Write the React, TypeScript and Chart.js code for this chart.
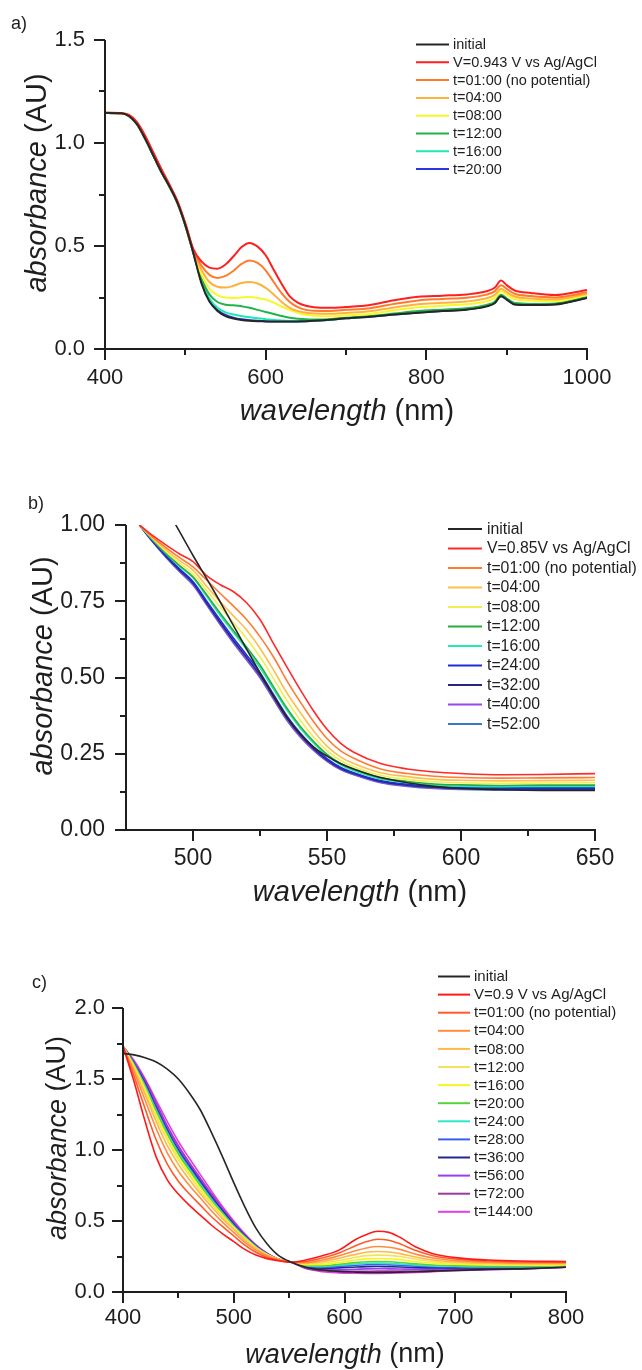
import React, { useEffect, useRef } from 'react';
import { Chart, registerables } from 'chart.js';

Chart.register(...registerables);

const FONT = "'Liberation Sans', Arial, Helvetica, sans-serif";
const INK = '#1e1e1e';

// ---------------- Panel a ----------------
const A_WAVELENGTH = [400, 420, 430, 440, 450, 460, 470, 480, 490, 500, 510, 520, 530, 540, 550, 560, 570, 580, 590, 600, 610, 620, 630, 640, 650, 660, 680, 700, 730, 760, 790, 820, 850, 875, 885, 893, 900, 910, 930, 960, 1000];
const A_INITIAL = [1.146, 1.144, 1.13, 1.09, 1.02, 0.94, 0.86, 0.79, 0.71, 0.6, 0.465, 0.32, 0.23, 0.185, 0.16, 0.148, 0.141, 0.137, 0.135, 0.134, 0.133, 0.133, 0.133, 0.134, 0.135, 0.137, 0.142, 0.149, 0.157, 0.167, 0.176, 0.184, 0.191, 0.207, 0.222, 0.256, 0.24, 0.216, 0.213, 0.216, 0.248];
const A_V0943 = [1.147, 1.146, 1.136, 1.1, 1.035, 0.955, 0.875, 0.8, 0.72, 0.61, 0.485, 0.425, 0.395, 0.39, 0.41, 0.45, 0.495, 0.515, 0.497, 0.455, 0.385, 0.315, 0.255, 0.225, 0.21, 0.203, 0.2, 0.204, 0.214, 0.237, 0.254, 0.259, 0.265, 0.28, 0.297, 0.332, 0.31, 0.284, 0.272, 0.262, 0.287];
const A_T01 = [1.147, 1.145, 1.134, 1.097, 1.03, 0.95, 0.87, 0.797, 0.717, 0.607, 0.478, 0.405, 0.36, 0.345, 0.355, 0.38, 0.413, 0.43, 0.418, 0.382, 0.325, 0.27, 0.228, 0.203, 0.19, 0.186, 0.185, 0.19, 0.198, 0.219, 0.236, 0.243, 0.249, 0.264, 0.28, 0.31, 0.292, 0.268, 0.257, 0.25, 0.275];
const A_T04 = [1.146, 1.145, 1.132, 1.094, 1.026, 0.946, 0.866, 0.794, 0.714, 0.604, 0.474, 0.385, 0.325, 0.302, 0.298, 0.307, 0.32, 0.325, 0.318, 0.297, 0.265, 0.228, 0.2, 0.184, 0.176, 0.172, 0.171, 0.175, 0.183, 0.202, 0.217, 0.224, 0.231, 0.246, 0.262, 0.292, 0.276, 0.255, 0.245, 0.24, 0.268];
const A_T08 = [1.146, 1.144, 1.131, 1.092, 1.023, 0.943, 0.863, 0.792, 0.712, 0.602, 0.47, 0.362, 0.293, 0.262, 0.25, 0.248, 0.25, 0.252, 0.248, 0.24, 0.225, 0.205, 0.19, 0.176, 0.166, 0.161, 0.159, 0.163, 0.17, 0.188, 0.203, 0.21, 0.217, 0.232, 0.248, 0.28, 0.264, 0.243, 0.235, 0.232, 0.262];
const A_T12 = [1.146, 1.144, 1.13, 1.091, 1.021, 0.941, 0.861, 0.791, 0.711, 0.601, 0.468, 0.345, 0.265, 0.228, 0.215, 0.212, 0.208, 0.2, 0.19, 0.18, 0.17, 0.16, 0.152, 0.147, 0.144, 0.143, 0.145, 0.152, 0.16, 0.172, 0.184, 0.191, 0.198, 0.214, 0.229, 0.263, 0.246, 0.223, 0.219, 0.221, 0.252];
const A_T16 = [1.146, 1.144, 1.13, 1.09, 1.02, 0.94, 0.86, 0.79, 0.71, 0.6, 0.466, 0.334, 0.245, 0.2, 0.178, 0.167, 0.16, 0.154, 0.149, 0.145, 0.141, 0.138, 0.136, 0.135, 0.135, 0.137, 0.142, 0.15, 0.158, 0.168, 0.178, 0.186, 0.193, 0.209, 0.224, 0.258, 0.242, 0.218, 0.215, 0.218, 0.25];
const A_T20 = [1.146, 1.144, 1.13, 1.09, 1.02, 0.94, 0.86, 0.79, 0.71, 0.6, 0.466, 0.327, 0.237, 0.19, 0.165, 0.152, 0.144, 0.14, 0.137, 0.135, 0.134, 0.134, 0.134, 0.134, 0.135, 0.137, 0.142, 0.149, 0.157, 0.167, 0.177, 0.185, 0.192, 0.208, 0.223, 0.257, 0.241, 0.217, 0.214, 0.217, 0.249];
const A_LABELS = ['initial', 'V=0.943 V vs Ag/AgCl', 't=01:00 (no potential)', 't=04:00', 't=08:00', 't=12:00', 't=16:00', 't=20:00'];
const A_X_TICKS = [400, 600, 800, 1000];
const A_X_MINOR = [500, 700, 900];
const A_Y_TICKS = [0, 0.5, 1.0, 1.5];
const A_Y_MINOR = [0.25, 0.75, 1.25];

// ---------------- Panel b ----------------
const B_WAVELENGTH = [480, 485, 490, 495, 500, 505, 510, 515, 520, 525, 530, 535, 540, 545, 550, 555, 560, 570, 580, 590, 600, 615, 630, 650];
const B_INITIAL = [null, null, 1.056, 0.978, 0.9, 0.826, 0.75, 0.672, 0.593, 0.515, 0.44, 0.37, 0.315, 0.272, 0.242, 0.218, 0.2, 0.172, 0.155, 0.143, 0.136, 0.132, 0.13, 0.13];
const B_V085 = [1.0, 0.965, 0.934, 0.905, 0.88, 0.835, 0.805, 0.782, 0.745, 0.69, 0.612, 0.535, 0.46, 0.39, 0.33, 0.285, 0.255, 0.218, 0.2, 0.19, 0.185, 0.181, 0.182, 0.185];
const B_T01 = [1.0, 0.96, 0.925, 0.893, 0.863, 0.82, 0.777, 0.735, 0.69, 0.634, 0.568, 0.49, 0.42, 0.355, 0.3, 0.26, 0.235, 0.2, 0.185, 0.176, 0.172, 0.17, 0.171, 0.172];
const B_T04 = [1.0, 0.958, 0.918, 0.883, 0.852, 0.8, 0.75, 0.703, 0.656, 0.596, 0.525, 0.45, 0.385, 0.325, 0.275, 0.24, 0.218, 0.188, 0.175, 0.166, 0.163, 0.161, 0.162, 0.163];
const B_T08 = [1.0, 0.955, 0.912, 0.875, 0.84, 0.787, 0.733, 0.68, 0.628, 0.568, 0.497, 0.425, 0.36, 0.305, 0.26, 0.228, 0.207, 0.179, 0.166, 0.158, 0.155, 0.153, 0.154, 0.155];
const B_T12 = [1.0, 0.952, 0.907, 0.867, 0.83, 0.772, 0.712, 0.655, 0.6, 0.541, 0.47, 0.4, 0.34, 0.29, 0.248, 0.218, 0.198, 0.171, 0.159, 0.151, 0.148, 0.146, 0.147, 0.147];
const B_T16 = [1.0, 0.951, 0.905, 0.864, 0.827, 0.767, 0.705, 0.648, 0.592, 0.532, 0.462, 0.393, 0.334, 0.285, 0.244, 0.214, 0.194, 0.167, 0.155, 0.147, 0.144, 0.142, 0.143, 0.143];
const B_T24 = [1.0, 0.948, 0.9, 0.856, 0.815, 0.752, 0.69, 0.63, 0.574, 0.516, 0.445, 0.375, 0.318, 0.272, 0.234, 0.206, 0.188, 0.162, 0.15, 0.143, 0.14, 0.138, 0.138, 0.138];
const B_T32 = [1.0, 0.946, 0.897, 0.852, 0.81, 0.746, 0.683, 0.622, 0.566, 0.508, 0.438, 0.368, 0.312, 0.267, 0.23, 0.202, 0.185, 0.159, 0.147, 0.14, 0.137, 0.135, 0.135, 0.135];
const B_T40 = [1.0, 0.945, 0.895, 0.849, 0.806, 0.742, 0.678, 0.617, 0.56, 0.502, 0.432, 0.363, 0.307, 0.263, 0.227, 0.2, 0.183, 0.157, 0.145, 0.138, 0.135, 0.133, 0.133, 0.133];
const B_T52 = [1.0, 0.944, 0.893, 0.847, 0.803, 0.739, 0.675, 0.614, 0.557, 0.499, 0.429, 0.36, 0.305, 0.261, 0.225, 0.198, 0.181, 0.155, 0.143, 0.136, 0.133, 0.131, 0.131, 0.132];
const B_LABELS = ['initial', 'V=0.85V vs Ag/AgCl', 't=01:00 (no potential)', 't=04:00', 't=08:00', 't=12:00', 't=16:00', 't=24:00', 't=32:00', 't=40:00', 't=52:00'];
const B_X_TICKS = [500, 550, 600, 650];
const B_X_MINOR = [525, 575, 625];
const B_Y_TICKS = [0, 0.25, 0.5, 0.75, 1.0];
const B_Y_MINOR = [0.125, 0.375, 0.625, 0.875];

// ---------------- Panel c ----------------
const C_WAVELENGTH = [400, 410, 420, 430, 440, 450, 460, 470, 480, 490, 500, 510, 520, 530, 540, 552, 565, 580, 595, 610, 620, 630, 640, 650, 665, 680, 700, 730, 760, 800];
const C_INITIAL = [1.68, 1.67, 1.65, 1.62, 1.57, 1.5, 1.4, 1.28, 1.12, 0.95, 0.77, 0.6, 0.45, 0.34, 0.26, 0.21, 0.175, 0.155, 0.145, 0.14, 0.138, 0.137, 0.138, 0.14, 0.143, 0.147, 0.152, 0.158, 0.163, 0.175];
const C_V09 = [1.73, 1.48, 1.2, 0.95, 0.79, 0.69, 0.61, 0.54, 0.47, 0.41, 0.355, 0.3, 0.26, 0.235, 0.22, 0.21, 0.225, 0.255, 0.295, 0.37, 0.405, 0.428, 0.42, 0.385, 0.315, 0.27, 0.242, 0.225, 0.218, 0.215];
const C_T01 = [1.73, 1.52, 1.29, 1.07, 0.9, 0.78, 0.69, 0.61, 0.53, 0.46, 0.395, 0.33, 0.28, 0.245, 0.225, 0.21, 0.215, 0.24, 0.275, 0.325, 0.355, 0.372, 0.365, 0.34, 0.29, 0.255, 0.232, 0.218, 0.212, 0.21];
const C_T04 = [1.73, 1.55, 1.35, 1.15, 0.98, 0.85, 0.75, 0.66, 0.57, 0.49, 0.42, 0.35, 0.295, 0.255, 0.228, 0.21, 0.208, 0.225, 0.255, 0.29, 0.31, 0.32, 0.315, 0.3, 0.265, 0.24, 0.222, 0.21, 0.205, 0.205];
const C_T08 = [1.73, 1.57, 1.39, 1.2, 1.03, 0.9, 0.79, 0.69, 0.6, 0.515, 0.44, 0.365, 0.305, 0.26, 0.23, 0.21, 0.203, 0.213, 0.238, 0.265, 0.28, 0.285, 0.282, 0.27, 0.245, 0.225, 0.212, 0.203, 0.2, 0.2];
const C_T12 = [1.73, 1.58, 1.41, 1.23, 1.07, 0.93, 0.82, 0.71, 0.62, 0.53, 0.45, 0.375, 0.31, 0.262, 0.23, 0.21, 0.198, 0.203, 0.222, 0.245, 0.256, 0.26, 0.258, 0.25, 0.23, 0.214, 0.204, 0.197, 0.194, 0.195];
const C_T16 = [1.73, 1.59, 1.43, 1.25, 1.09, 0.95, 0.84, 0.73, 0.63, 0.54, 0.455, 0.38, 0.313, 0.264, 0.23, 0.21, 0.193, 0.194, 0.208, 0.225, 0.233, 0.236, 0.234, 0.228, 0.213, 0.203, 0.196, 0.19, 0.188, 0.19];
const C_T20 = [1.73, 1.6, 1.44, 1.27, 1.11, 0.97, 0.855, 0.745, 0.64, 0.55, 0.46, 0.385, 0.316, 0.265, 0.23, 0.21, 0.188, 0.185, 0.195, 0.207, 0.213, 0.215, 0.213, 0.208, 0.198, 0.19, 0.186, 0.182, 0.181, 0.185];
const C_T24 = [1.73, 1.6, 1.45, 1.28, 1.12, 0.98, 0.865, 0.755, 0.65, 0.555, 0.465, 0.388, 0.318, 0.266, 0.23, 0.21, 0.185, 0.18, 0.188, 0.197, 0.202, 0.203, 0.201, 0.197, 0.19, 0.184, 0.181, 0.178, 0.178, 0.182];
const C_T28 = [1.73, 1.61, 1.46, 1.29, 1.13, 0.99, 0.875, 0.765, 0.66, 0.56, 0.47, 0.39, 0.32, 0.267, 0.23, 0.21, 0.182, 0.175, 0.18, 0.188, 0.192, 0.193, 0.191, 0.188, 0.182, 0.178, 0.176, 0.174, 0.174, 0.18];
const C_T36 = [1.73, 1.61, 1.47, 1.3, 1.14, 1.0, 0.885, 0.775, 0.67, 0.57, 0.477, 0.395, 0.323, 0.268, 0.23, 0.21, 0.178, 0.168, 0.17, 0.176, 0.179, 0.18, 0.178, 0.176, 0.172, 0.17, 0.17, 0.169, 0.17, 0.178];
const C_T56 = [1.73, 1.62, 1.48, 1.32, 1.16, 1.02, 0.9, 0.79, 0.68, 0.58, 0.485, 0.4, 0.326, 0.27, 0.23, 0.21, 0.172, 0.158, 0.156, 0.16, 0.163, 0.164, 0.163, 0.162, 0.16, 0.16, 0.162, 0.164, 0.166, 0.176];
const C_T72 = [1.73, 1.62, 1.49, 1.33, 1.17, 1.03, 0.91, 0.8, 0.69, 0.585, 0.49, 0.403, 0.328, 0.271, 0.23, 0.21, 0.168, 0.15, 0.145, 0.145, 0.146, 0.147, 0.147, 0.147, 0.148, 0.15, 0.155, 0.16, 0.163, 0.175];
const C_T144 = [1.73, 1.63, 1.5, 1.35, 1.2, 1.06, 0.94, 0.825, 0.71, 0.6, 0.5, 0.41, 0.332, 0.273, 0.232, 0.21, 0.165, 0.143, 0.135, 0.132, 0.131, 0.131, 0.132, 0.134, 0.138, 0.143, 0.15, 0.157, 0.162, 0.174];
const C_LABELS = ['initial', 'V=0.9 V vs Ag/AgCl', 't=01:00 (no potential)', 't=04:00', 't=08:00', 't=12:00', 't=16:00', 't=20:00', 't=24:00', 't=28:00', 't=36:00', 't=56:00', 't=72:00', 't=144:00'];
const C_X_TICKS = [400, 500, 600, 700, 800];
const C_X_MINOR = [450, 550, 650, 750];
const C_Y_TICKS = [0, 0.5, 1.0, 1.5, 2.0];
const C_Y_MINOR = [0.25, 0.75, 1.25, 1.75];

// ---------------- styles / layout ----------------
const A_COLORS = ['#262626', '#ff1f1f', '#ff7b29', '#ffb13d', '#f7f72a', '#21b34a', '#1ee8b4', '#2a35e0'];
const B_COLORS = ['#262626', '#ff2a2a', '#ff7b30', '#ffbe4d', '#f0f050', '#2bab3c', '#22ecb4', '#1f2fd8', '#27277f', '#9b45f0', '#3c78c8'];
const C_COLORS = ['#262626', '#ff1a1a', '#ff5a28', '#ff8c40', '#ffb84a', '#f2e35a', '#f7f51c', '#55d43a', '#2ee8c8', '#3c5ef0', '#252590', '#9a3cf5', '#9a3a9a', '#e23ee6'];

const PANELS = [
  {
    key: 'a', top: 0, height: 460,
    area: { left: 105, right: 587, top: 40, bottom: 349 },
    x: { min: 400, max: 1000, ticks: A_X_TICKS, minor: A_X_MINOR },
    y: { min: 0, max: 1.5, ticks: A_Y_TICKS, minor: A_Y_MINOR, dec: 1 },
    wl: A_WAVELENGTH,
    series: [A_INITIAL, A_V0943, A_T01, A_T04, A_T08, A_T12, A_T16, A_T20],
    labels: A_LABELS, colors: A_COLORS, lineWidth: 2,
    tickFont: 22, xPad: 16, yPad: 20,
    legend: { x0: 416, x1: 449, tx: 453, y0: 44.5, dy: 17.8, size: 14.5 },
    yTitle: { x: 38, y: 183, size: 29 },
    xTitle: { x: 347, y: 412, size: 29 },
    tag: { text: 'a)', x: 11, y: 24, size: 18 },
  },
  {
    key: 'b', top: 460, height: 460,
    area: { left: 126, right: 595, top: 525, bottom: 830 },
    x: { min: 475, max: 650, ticks: B_X_TICKS, minor: B_X_MINOR },
    y: { min: 0, max: 1.0, ticks: B_Y_TICKS, minor: B_Y_MINOR, dec: 2 },
    wl: B_WAVELENGTH,
    series: [B_INITIAL, B_V085, B_T01, B_T04, B_T08, B_T12, B_T16, B_T24, B_T32, B_T40, B_T52],
    labels: B_LABELS, colors: B_COLORS, lineWidth: 1.6,
    tickFont: 23, xPad: 15, yPad: 21,
    legend: { x0: 448, x1: 482, tx: 487, y0: 529, dy: 19.5, size: 15.8 },
    yTitle: { x: 44, y: 666, size: 29 },
    xTitle: { x: 360, y: 893, size: 29 },
    tag: { text: 'b)', x: 28, y: 504, size: 18 },
  },
  {
    key: 'c', top: 920, height: 450,
    area: { left: 123, right: 566, top: 1008, bottom: 1292 },
    x: { min: 400, max: 800, ticks: C_X_TICKS, minor: C_X_MINOR },
    y: { min: 0, max: 2.0, ticks: C_Y_TICKS, minor: C_Y_MINOR, dec: 1 },
    wl: C_WAVELENGTH,
    series: [C_INITIAL, C_V09, C_T01, C_T04, C_T08, C_T12, C_T16, C_T20, C_T24, C_T28, C_T36, C_T56, C_T72, C_T144],
    labels: C_LABELS, colors: C_COLORS, lineWidth: 1.6,
    tickFont: 22, xPad: 13, yPad: 18,
    legend: { x0: 438, x1: 470, tx: 474, y0: 976.5, dy: 18.1, size: 15 },
    yTitle: { x: 58, y: 1138, size: 27 },
    xTitle: { x: 345, y: 1355, size: 27 },
    tag: { text: 'c)', x: 32, y: 983, size: 18 },
  },
];

function drawMixed(ctx: CanvasRenderingContext2D, parts: { t: string; it: boolean }[], cx: number, cy: number, size: number, rotate: boolean) {
  ctx.save();
  ctx.translate(cx, cy);
  if (rotate) ctx.rotate(-Math.PI / 2);
  const fonts = parts.map((p) => `${p.it ? 'italic ' : ''}${size}px ${FONT}`);
  let total = 0;
  const widths = parts.map((p, i) => {
    ctx.font = fonts[i];
    const w = ctx.measureText(p.t).width;
    total += w;
    return w;
  });
  let x = -total / 2;
  ctx.textBaseline = 'middle';
  ctx.textAlign = 'left';
  ctx.fillStyle = INK;
  parts.forEach((p, i) => {
    ctx.font = fonts[i];
    ctx.fillText(p.t, x, 0);
    x += widths[i];
  });
  ctx.restore();
}

function decorPlugin(s: any) {
  return {
    id: 'decor' + s.key,
    afterDatasetsDraw(chart: any) {
      const ctx: CanvasRenderingContext2D = chart.ctx;
      const ca = chart.chartArea;
      const xs = chart.scales.x;
      const ys = chart.scales.y;
      const off = s.top;
      ctx.save();
      ctx.strokeStyle = INK;
      ctx.lineWidth = 2;
      ctx.lineCap = 'butt';
      ctx.beginPath();
      const L = Math.round(ca.left);
      const B = Math.round(ca.bottom);
      ctx.moveTo(L, Math.round(ca.top));
      ctx.lineTo(L, B + 1);
      ctx.moveTo(L - 1, B);
      ctx.lineTo(Math.round(ca.right) + 1, B);
      s.x.ticks.forEach((v: number) => {
        const p = Math.round(xs.getPixelForValue(v));
        ctx.moveTo(p, B);
        ctx.lineTo(p, B + 11);
      });
      s.x.minor.forEach((v: number) => {
        const p = Math.round(xs.getPixelForValue(v));
        ctx.moveTo(p, B);
        ctx.lineTo(p, B + 6);
      });
      s.y.ticks.forEach((v: number) => {
        const p = Math.round(ys.getPixelForValue(v));
        ctx.moveTo(L, p);
        ctx.lineTo(L - 11, p);
      });
      s.y.minor.forEach((v: number) => {
        const p = Math.round(ys.getPixelForValue(v));
        ctx.moveTo(L, p);
        ctx.lineTo(L - 6, p);
      });
      ctx.stroke();

      // legend
      const lg = s.legend;
      s.labels.forEach((label: string, i: number) => {
        const y = lg.y0 + i * lg.dy - off;
        ctx.strokeStyle = s.colors[i];
        ctx.lineWidth = 2;
        ctx.beginPath();
        ctx.moveTo(lg.x0, y);
        ctx.lineTo(lg.x1, y);
        ctx.stroke();
        ctx.fillStyle = INK;
        ctx.font = `${lg.size}px ${FONT}`;
        ctx.textAlign = 'left';
        ctx.textBaseline = 'middle';
        ctx.fillText(label, lg.tx, y + 0.5);
      });

      // axis titles
      drawMixed(ctx, [{ t: 'absorbance', it: true }, { t: ' (AU)', it: false }], s.yTitle.x, s.yTitle.y - off, s.yTitle.size, true);
      drawMixed(ctx, [{ t: 'wavelength', it: true }, { t: ' (nm)', it: false }], s.xTitle.x, s.xTitle.y - off, s.xTitle.size, false);

      // panel tag
      ctx.fillStyle = INK;
      ctx.font = `${s.tag.size}px ${FONT}`;
      ctx.textAlign = 'left';
      ctx.textBaseline = 'middle';
      ctx.fillText(s.tag.text, s.tag.x, s.tag.y - off);
      ctx.restore();
    },
  };
}

function Panel({ s }: { s: any }) {
  const ref = useRef<HTMLCanvasElement>(null);
  useEffect(() => {
    const datasets = s.series.map((vals: (number | null)[], i: number) => ({
      label: s.labels[i],
      data: s.wl.map((x: number, j: number) => ({ x, y: vals[j] })),
      borderColor: s.colors[i],
      backgroundColor: s.colors[i],
      borderWidth: s.lineWidth,
      pointRadius: 0,
      cubicInterpolationMode: 'monotone',
      spanGaps: false,
      fill: false,
    }));
    const chart = new Chart(ref.current as HTMLCanvasElement, {
      type: 'line',
      data: { datasets },
      options: {
        responsive: false,
        animation: false,
        events: [],
        layout: { padding: { left: 0, right: 642 - s.area.right, top: s.area.top - s.top, bottom: 0 } },
        plugins: { legend: { display: false }, tooltip: { enabled: false }, title: { display: false } },
        scales: {
          x: {
            type: 'linear',
            min: s.x.min,
            max: s.x.max,
            afterBuildTicks: (sc: any) => { sc.ticks = s.x.ticks.map((v: number) => ({ value: v })); },
            afterFit: (sc: any) => { sc.height = s.height - (s.area.bottom - s.top); },
            grid: { display: false, drawTicks: false },
            border: { display: false },
            ticks: {
              autoSkip: false, maxRotation: 0, padding: s.xPad, color: INK,
              font: { family: FONT, size: s.tickFont },
              callback: (v: any) => String(v),
            },
          },
          y: {
            type: 'linear',
            min: s.y.min,
            max: s.y.max,
            afterBuildTicks: (sc: any) => { sc.ticks = s.y.ticks.map((v: number) => ({ value: v })); },
            afterFit: (sc: any) => { sc.width = s.area.left; },
            grid: { display: false, drawTicks: false },
            border: { display: false },
            ticks: {
              autoSkip: false, padding: s.yPad, color: INK,
              font: { family: FONT, size: s.tickFont },
              callback: (v: any) => Number(v).toFixed(s.y.dec),
            },
          },
        },
      },
      plugins: [decorPlugin(s)],
    } as any);
    return () => chart.destroy();
  }, [s]);
  return <canvas ref={ref} width={642} height={s.height} style={{ display: 'block', width: 642, height: s.height }} />;
}

export default function App() {
  return (
    <div style={{ position: 'absolute', left: 0, top: 0, width: 642, height: 1370, background: '#fff' }}>
      {PANELS.map((p) => (
        <Panel key={p.key} s={p} />
      ))}
    </div>
  );
}
